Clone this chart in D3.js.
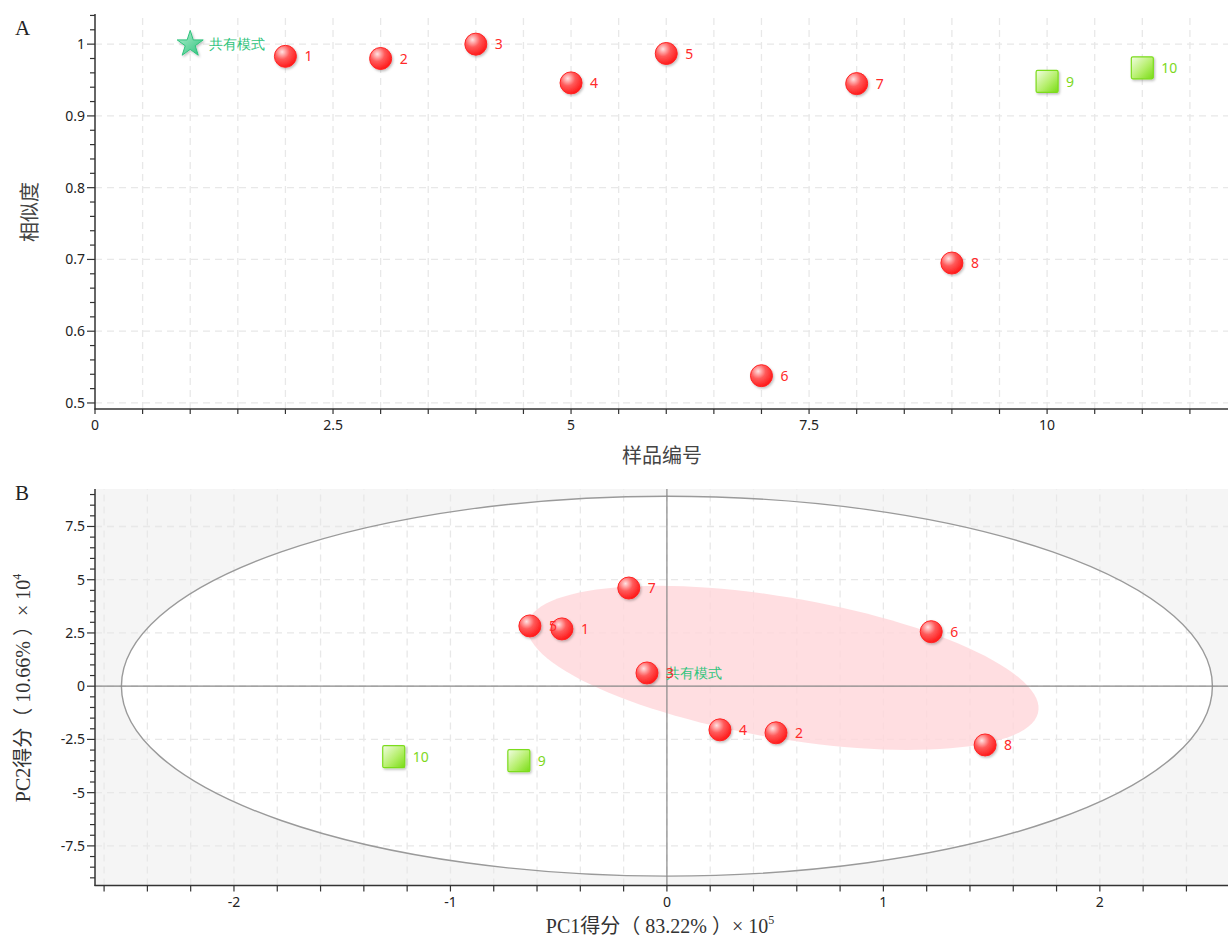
<!DOCTYPE html>
<html>
<head>
<meta charset="utf-8">
<script src="https://cdn.jsdelivr.net/npm/d3@7"></script>
<style>
  html, body { margin: 0; padding: 0; background: #fff; }
  svg { display: block; }
  .tick-label { font-family: "Noto Sans", "Open Sans", sans-serif; font-size: 14px; fill: #222; }
  .pt-label { font-family: "Noto Sans", "Open Sans", sans-serif; font-size: 14px; }
  .axis-title-sans { font-family: "Noto Sans CJK SC", "Noto Sans", sans-serif; font-size: 20px; fill: #444; }
  .axis-title { font-family: "Liberation Serif", "Noto Sans CJK SC", serif; font-size: 20px; fill: #333; }
  .panel-tag { font-family: "Liberation Serif", serif; font-size: 21px; fill: #222; }
</style>
</head>
<body>
<svg id="chart" width="1228" height="938"></svg>
<script>
// ---- Panel A: similarity of each sample to the common pattern ----
const simNames = ['共有模式', '1', '2', '3', '4', '5', '6', '7', '8', '9', '10'];
const simIndex = [1, 2, 3, 4, 5, 6, 7, 8, 9, 10, 11];
const simValues = [1.000, 0.983, 0.980, 1.000, 0.946, 0.987, 0.538, 0.945, 0.695, 0.948, 0.967];
const simGroups = ['ref', 'a', 'a', 'a', 'a', 'a', 'a', 'a', 'a', 'b', 'b'];
const simXTicks = [0, 2.5, 5, 7.5, 10];
const simYTicks = [0.5, 0.6, 0.7, 0.8, 0.9, 1];

// ---- Panel B: PCA scores (PC1 ×10^5, PC2 ×10^4) ----
const pcaNames = ['共有模式', '1', '2', '3', '4', '5', '6', '7', '8', '9', '10'];
const pc1Scores = [-0.092, -0.485, 0.504, -0.092, 0.245, -0.633, 1.221, -0.176, 1.470, -0.684, -1.262];
const pc2Scores = [0.62, 2.69, -2.19, 0.62, -2.05, 2.83, 2.56, 4.61, -2.76, -3.50, -3.31];
const pcaGroups = ['ref', 'a', 'a', 'a', 'a', 'a', 'a', 'a', 'a', 'b', 'b'];
const pcaXTicks = [-2, -1, 0, 1, 2];
const pcaYTicks = [-7.5, -5, -2.5, 0, 2.5, 5, 7.5];
// Hotelling ellipse (semi-axes in score units) and the group-a confidence region
const hotelling = { cx: 0, cy: 0, rx: 2.52, ry: 8.92 };
const groupRegion = { cx: 0.536, cy: 0.86, a: 3.90, b: 1.016, angleDeg: -80.8 };

const svg = d3.select('#chart');
const defs = svg.append('defs');

// marker gradients and shadow
const rg = defs.append('radialGradient').attr('id', 'redBall')
  .attr('cx', '35%').attr('cy', '30%').attr('r', '75%');
rg.append('stop').attr('offset', '0%').attr('stop-color', '#ffe2e2');
rg.append('stop').attr('offset', '45%').attr('stop-color', '#ff5a5a');
rg.append('stop').attr('offset', '100%').attr('stop-color', '#ff1414');

const gg = defs.append('linearGradient').attr('id', 'greenBox')
  .attr('x1', '0%').attr('y1', '0%').attr('x2', '100%').attr('y2', '100%');
gg.append('stop').attr('offset', '0%').attr('stop-color', '#f2fde4');
gg.append('stop').attr('offset', '55%').attr('stop-color', '#b6ef6c');
gg.append('stop').attr('offset', '100%').attr('stop-color', '#78dc14');

const sg = defs.append('linearGradient').attr('id', 'starFill')
  .attr('x1', '0%').attr('y1', '0%').attr('x2', '100%').attr('y2', '100%');
sg.append('stop').attr('offset', '0%').attr('stop-color', '#b5f0d2');
sg.append('stop').attr('offset', '100%').attr('stop-color', '#2ec27c');

const sh = defs.append('filter').attr('id', 'shadow')
  .attr('x', '-40%').attr('y', '-40%').attr('width', '180%').attr('height', '180%');
sh.append('feDropShadow').attr('dx', 1.2).attr('dy', 1.5).attr('stdDeviation', 1.2)
  .attr('flood-color', '#000').attr('flood-opacity', 0.25);

const colors = {
  a: { label: '#ff2a2a' },
  b: { label: '#7ed81c' },
  ref: { label: '#2fc47c' }
};

function drawMarker(g, group, x, y, starSize) {
  if (group === 'a') {
    g.append('circle').attr('cx', x).attr('cy', y).attr('r', 11)
      .attr('fill', 'url(#redBall)').attr('stroke', '#ff2424').attr('stroke-width', 1)
      .attr('filter', 'url(#shadow)');
  } else if (group === 'b') {
    g.append('rect').attr('x', x - 11).attr('y', y - 11).attr('width', 22).attr('height', 22)
      .attr('rx', 1.5)
      .attr('fill', 'url(#greenBox)').attr('stroke', '#7cdc1c').attr('stroke-width', 1.2)
      .attr('filter', 'url(#shadow)');
  } else {
    g.append('path').attr('d', d3.symbol(d3.symbolStar).size(starSize)())
      .attr('transform', `translate(${x},${y})`)
      .attr('fill', 'url(#starFill)').attr('stroke', '#2ec27c').attr('stroke-width', 1)
      .attr('stroke-linejoin', 'round')
      .attr('filter', 'url(#shadow)');
  }
}

function drawLabel(g, group, x, y, text) {
  g.append('text').attr('class', 'pt-label')
    .attr('x', x + 19).attr('y', y).attr('dy', '0.36em')
    .attr('fill', colors[group].label).text(text);
}

function gridLines(g, x, y, xs, ys) {
  const [x0, x1] = x.range(), [y0, y1] = y.range();
  const gl = g.append('g').attr('stroke', '#e8e8e8').attr('stroke-width', 1.3)
    .attr('stroke-dasharray', '7,5');
  xs.forEach(v => gl.append('line').attr('x1', x(v)).attr('x2', x(v)).attr('y1', y0).attr('y2', y1));
  ys.forEach(v => gl.append('line').attr('y1', y(v)).attr('y2', y(v)).attr('x1', x0).attr('x2', x1));
}

function drawAxes(g, x, y, opt) {
  const [x0, x1] = x.range(), [yb, yt] = y.range();
  const ax = g.append('g').attr('stroke', '#333').attr('stroke-width', 1.5);
  ax.append('line').attr('x1', x0).attr('x2', x0).attr('y1', yt).attr('y2', yb + 0.5);
  ax.append('line').attr('x1', x0 - 0.5).attr('x2', x1).attr('y1', yb).attr('y2', yb);
  const tk = g.append('g').attr('stroke', '#333').attr('stroke-width', 1.2);
  opt.xMinor.forEach(v => tk.append('line').attr('x1', x(v)).attr('x2', x(v)).attr('y1', yb).attr('y2', yb + opt.xTickLen));
  opt.yMinor.forEach(v => {
    const major = opt.yTicks.some(t => Math.abs(t - v) < 1e-9);
    tk.append('line').attr('y1', y(v)).attr('y2', y(v)).attr('x1', x0).attr('x2', x0 - (major ? 8 : 5));
  });
  opt.xTicks.forEach(v => g.append('text').attr('class', 'tick-label')
    .attr('x', x(v)).attr('y', yb + 21).attr('text-anchor', 'middle').text(opt.fmt(v)));
  opt.yTicks.forEach(v => g.append('text').attr('class', 'tick-label')
    .attr('x', x0 - 10).attr('y', y(v)).attr('dy', '0.35em').attr('text-anchor', 'end').text(opt.fmt(v)));
}

const fmt = v => String(+v.toFixed(2));
const stepRange = (a, b, s) => d3.range(Math.round(a / s), Math.round(b / s) + 1).map(k => +(k * s).toFixed(6));

// ================= Panel A =================
{
  const x = d3.scaleLinear().domain([0, 11.9]).range([95, 1228]);
  const y = d3.scaleLinear().domain([0.4916, 1.042]).range([409, 14]);
  const g = svg.append('g');
  gridLines(g, x, y, stepRange(0.5, 11.5, 0.5), simYTicks);
  drawAxes(g, x, y, {
    xTicks: simXTicks, yTicks: simYTicks, fmt,
    xMinor: stepRange(0, 11.5, 0.5), yMinor: stepRange(0.5, 1.04, 0.02), xTickLen: 5
  });
  const mk = g.append('g');
  simIndex.forEach((d, i) => drawMarker(mk, simGroups[i], x(d), y(simValues[i]), 210));
  simIndex.forEach((d, i) => drawLabel(mk, simGroups[i], x(d), y(simValues[i]), simNames[i]));

  svg.append('text').attr('class', 'axis-title-sans').attr('x', 662).attr('y', 463)
    .attr('text-anchor', 'middle').text('样品编号');
  svg.append('text').attr('class', 'axis-title-sans')
    .attr('transform', 'translate(37,212) rotate(-90)').attr('text-anchor', 'middle').text('相似度');
  svg.append('text').attr('class', 'panel-tag').attr('x', 15).attr('y', 35).text('A');
}

// ================= Panel B =================
{
  const x = d3.scaleLinear().domain([-2.642, 2.592]).range([95, 1228]);
  const y = d3.scaleLinear().domain([-9.36, 9.26]).range([885.5, 489]);
  const g = svg.append('g');
  g.append('rect').attr('x', x.range()[0]).attr('y', y.range()[1])
    .attr('width', x.range()[1] - x.range()[0]).attr('height', y.range()[0] - y.range()[1])
    .attr('fill', '#f5f5f5');
  // Hotelling ellipse interior
  g.append('ellipse').attr('cx', x(hotelling.cx)).attr('cy', y(hotelling.cy))
    .attr('rx', x(hotelling.rx) - x(0)).attr('ry', y(0) - y(hotelling.ry))
    .attr('fill', '#fff').attr('stroke', 'none');

  gridLines(g, x, y, stepRange(-2.6, 2.4, 0.2), pcaYTicks);

  // confidence region of group a, traced in score units
  const th = groupRegion.angleDeg * Math.PI / 180;
  const pts = d3.range(0, 361, 3).map(t => {
    const r = t * Math.PI / 180;
    const u = groupRegion.a * Math.cos(r), v = groupRegion.b * Math.sin(r);
    return [groupRegion.cx + u * Math.cos(th) - v * Math.sin(th),
            groupRegion.cy + u * Math.sin(th) + v * Math.cos(th)];
  });
  g.append('path').attr('d', d3.line().x(d => x(d[0])).y(d => y(d[1])).curve(d3.curveLinearClosed)(pts))
    .attr('fill', '#ffd6da').attr('fill-opacity', 0.8);

  g.append('ellipse').attr('cx', x(hotelling.cx)).attr('cy', y(hotelling.cy))
    .attr('rx', x(hotelling.rx) - x(0)).attr('ry', y(0) - y(hotelling.ry))
    .attr('fill', 'none').attr('stroke', '#9a9a9a').attr('stroke-width', 1.4);

  // zero lines
  g.append('line').attr('x1', x(0)).attr('x2', x(0)).attr('y1', y.range()[1]).attr('y2', y.range()[0])
    .attr('stroke', '#888').attr('stroke-width', 1.2);
  g.append('line').attr('x1', x.range()[0]).attr('x2', x.range()[1]).attr('y1', y(0)).attr('y2', y(0))
    .attr('stroke', '#888').attr('stroke-width', 1.2);

  drawAxes(g, x, y, {
    xTicks: pcaXTicks, yTicks: pcaYTicks, fmt,
    xMinor: stepRange(-2.6, 2.4, 0.2), yMinor: stepRange(-9, 9, 0.5), xTickLen: 6
  });

  const mk = g.append('g');
  pc1Scores.forEach((d, i) => drawMarker(mk, pcaGroups[i], x(d), y(pc2Scores[i]), 110));
  pc1Scores.forEach((d, i) => drawLabel(mk, pcaGroups[i], x(d), y(pc2Scores[i]), pcaNames[i]));

  const t1 = svg.append('text').attr('class', 'axis-title').attr('x', 660).attr('y', 933)
    .attr('text-anchor', 'middle');
  t1.append('tspan').text('PC1得分（ 83.22% ）× 10');
  t1.append('tspan').attr('dy', -9).attr('font-size', 12).text('5');

  const t2 = svg.append('text').attr('class', 'axis-title')
    .attr('transform', 'translate(30,688) rotate(-90)').attr('text-anchor', 'middle');
  t2.append('tspan').text('PC2得分（ 10.66% ）× 10');
  t2.append('tspan').attr('dy', -9).attr('font-size', 12).text('4');

  svg.append('text').attr('class', 'panel-tag').attr('x', 15).attr('y', 500).text('B');
}
</script>
</body>
</html>
